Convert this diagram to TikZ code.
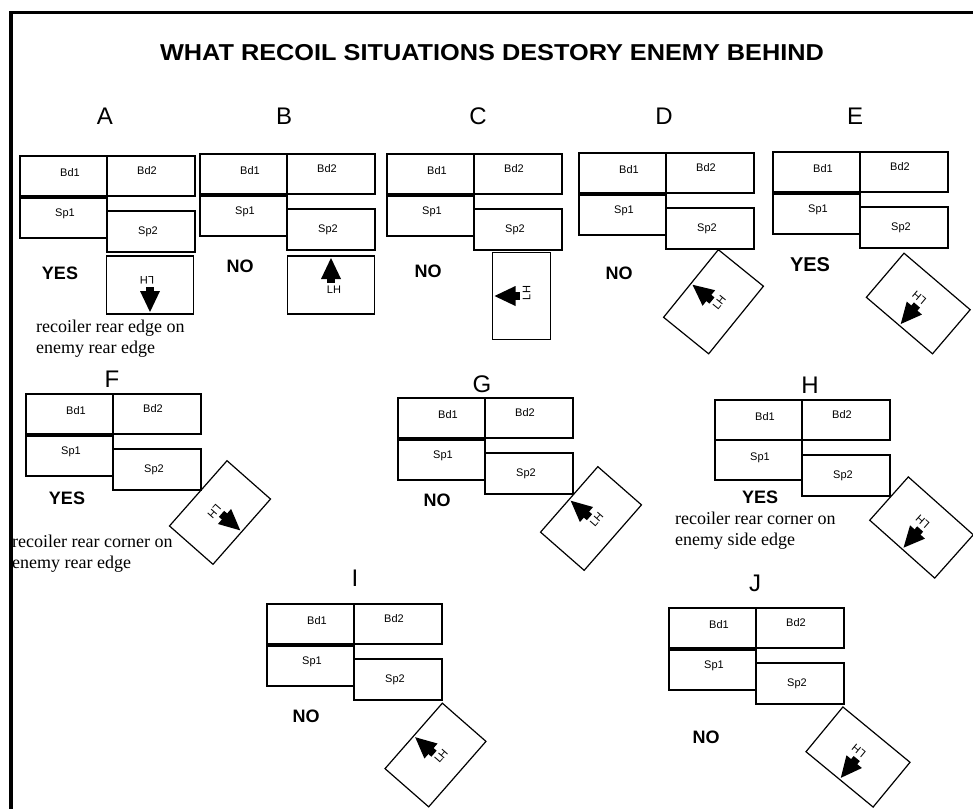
\documentclass[tikz,border=0pt]{standalone}
\usepackage{fontspec}
\setmainfont{Liberation Serif}
\newfontfamily\sansf{Liberation Sans}
\tikzset{
 box/.style={draw, line width=2pt, inner sep=0pt, outer sep=0pt, anchor=north west},
 unitbox/.style={draw, line width=1.2pt},
 boxlbl/.style={font=\sansf\fontsize{11}{11}\selectfont, inner sep=0pt},
 lhlbl/.style={font=\sansf\fontsize{11}{11}\selectfont, inner sep=0pt},
 verdict/.style={font=\sansf\bfseries\fontsize{18}{18}\selectfont, inner sep=0pt},
 letter/.style={font=\sansf\fontsize{24}{24}\selectfont, inner sep=0pt},
 note/.style={font=\fontsize{18}{21}\selectfont, inner sep=0pt, anchor=west, align=left},
 frameline/.style={line width=3.5pt},
}
\newcommand\mygroup[4]{%
 \begin{scope}[shift={(#2,#3)}]
  \node[box, minimum width=87pt, minimum height=40pt] (#1-bd1) at (0,0) {};
  \node[box, minimum width=88pt, minimum height=40pt] (#1-bd2) at (87,0) {};
  \node[box, minimum width=87pt, minimum height=40pt] (#1-sp1) at (0,#4) {};
  \node[box, minimum width=88pt, minimum height=41pt] (#1-sp2) at (87,55) {};
  \node[boxlbl] (#1-t1) at (50,17) {Bd1};
  \node[boxlbl] (#1-t2) at (127,15) {Bd2};
  \node[boxlbl] (#1-t3) at (45,58) {Sp1};
  \node[boxlbl] (#1-t4) at (128,76) {Sp2};
 \end{scope}}
\newcommand\myenemy[4]{%
 \begin{scope}[shift={(#2,#3)}, rotate=#4, transform shape]
  \draw[unitbox] (-43.5,-29) rectangle (43.5,29);
  \fill (0,-27) -- (-10,-6) -- (10,-6) -- cycle;
  \fill (-4,-7) rectangle (4,-2);
  \node[lhlbl] (#1-lh) at (3,5) {LH};
 \end{scope}}
\begin{document}
\begin{tikzpicture}[x=1pt,y=-1pt]
\useasboundingbox (0,0) rectangle (973,809);
\fill[white] (0,0) rectangle (973,809);
\coordinate (fr1) at (973,12.5);
\coordinate (fr2) at (11,12.5);
\coordinate (fr3) at (11,809);
\draw[frameline] (fr1) -- (fr2) -- (fr3);

\node[inner sep=0pt, font=\sansf\bfseries\fontsize{23}{23}\selectfont] (title) at (492,53)
  {\scalebox{1.1}[1]{WHAT RECOIL SITUATIONS DESTORY ENEMY BEHIND}};

% letters
\node[letter] (lA) at (105,116) {A};
\node[letter] (lB) at (284,116) {B};
\node[letter] (lC) at (478,116) {C};
\node[letter] (lD) at (664,116) {D};
\node[letter] (lE) at (855,116) {E};
\node[letter] (lF) at (112,379) {F};
\node[letter] (lG) at (482,384) {G};
\node[letter] (lH) at (810,385) {H};
\node[letter] (lI) at (355,578) {I};
\node[letter] (lJ) at (755,583) {J};

% formations
\mygroup{A}{20}{156}{42}
\mygroup{B}{200}{154}{42}
\mygroup{C}{387}{154}{42}
\mygroup{D}{579}{153}{42}
\mygroup{E}{773}{152}{42}
\mygroup{F}{26}{394}{42}
\mygroup{G}{398}{398}{42}
\mygroup{H}{715}{400}{40}
\mygroup{I}{267}{604}{42}
\mygroup{J}{669}{608}{42}

% enemy units
\myenemy{A}{150}{285}{180}
\myenemy{B}{331}{285}{0}
\myenemy{C}{521.5}{296}{90}
\myenemy{D}{713.5}{301.75}{51}
\myenemy{E}{918.25}{303.5}{139.5}
\myenemy{F}{220}{512.5}{228.6}
\myenemy{G}{591}{518.5}{48.8}
\myenemy{H}{921.5}{527.5}{138.3}
\myenemy{I}{435.5}{755}{48.8}
\myenemy{J}{858}{757}{140.5}

% verdicts
\node[verdict] (vA) at (60,273) {YES};
\node[verdict] (vB) at (240,266) {NO};
\node[verdict] (vC) at (428,271) {NO};
\node[verdict] (vD) at (619,273) {NO};
\node[verdict, font=\sansf\bfseries\fontsize{20}{20}\selectfont] (vE) at (810,265) {YES};
\node[verdict] (vF) at (67,498) {YES};
\node[verdict] (vG) at (437,500) {NO};
\node[verdict] (vH) at (760,497) {YES};
\node[verdict] (vI) at (306,716) {NO};
\node[verdict] (vJ) at (706,737) {NO};

% notes
\node[note] (nA) at (36,338.5) {recoiler rear edge on\\enemy rear edge};
\node[note] (nF) at (12,554) {recoiler rear corner on\\enemy rear edge};
\node[note] (nH) at (675,531) {recoiler rear corner on\\enemy side edge};
\end{tikzpicture}
\end{document}
